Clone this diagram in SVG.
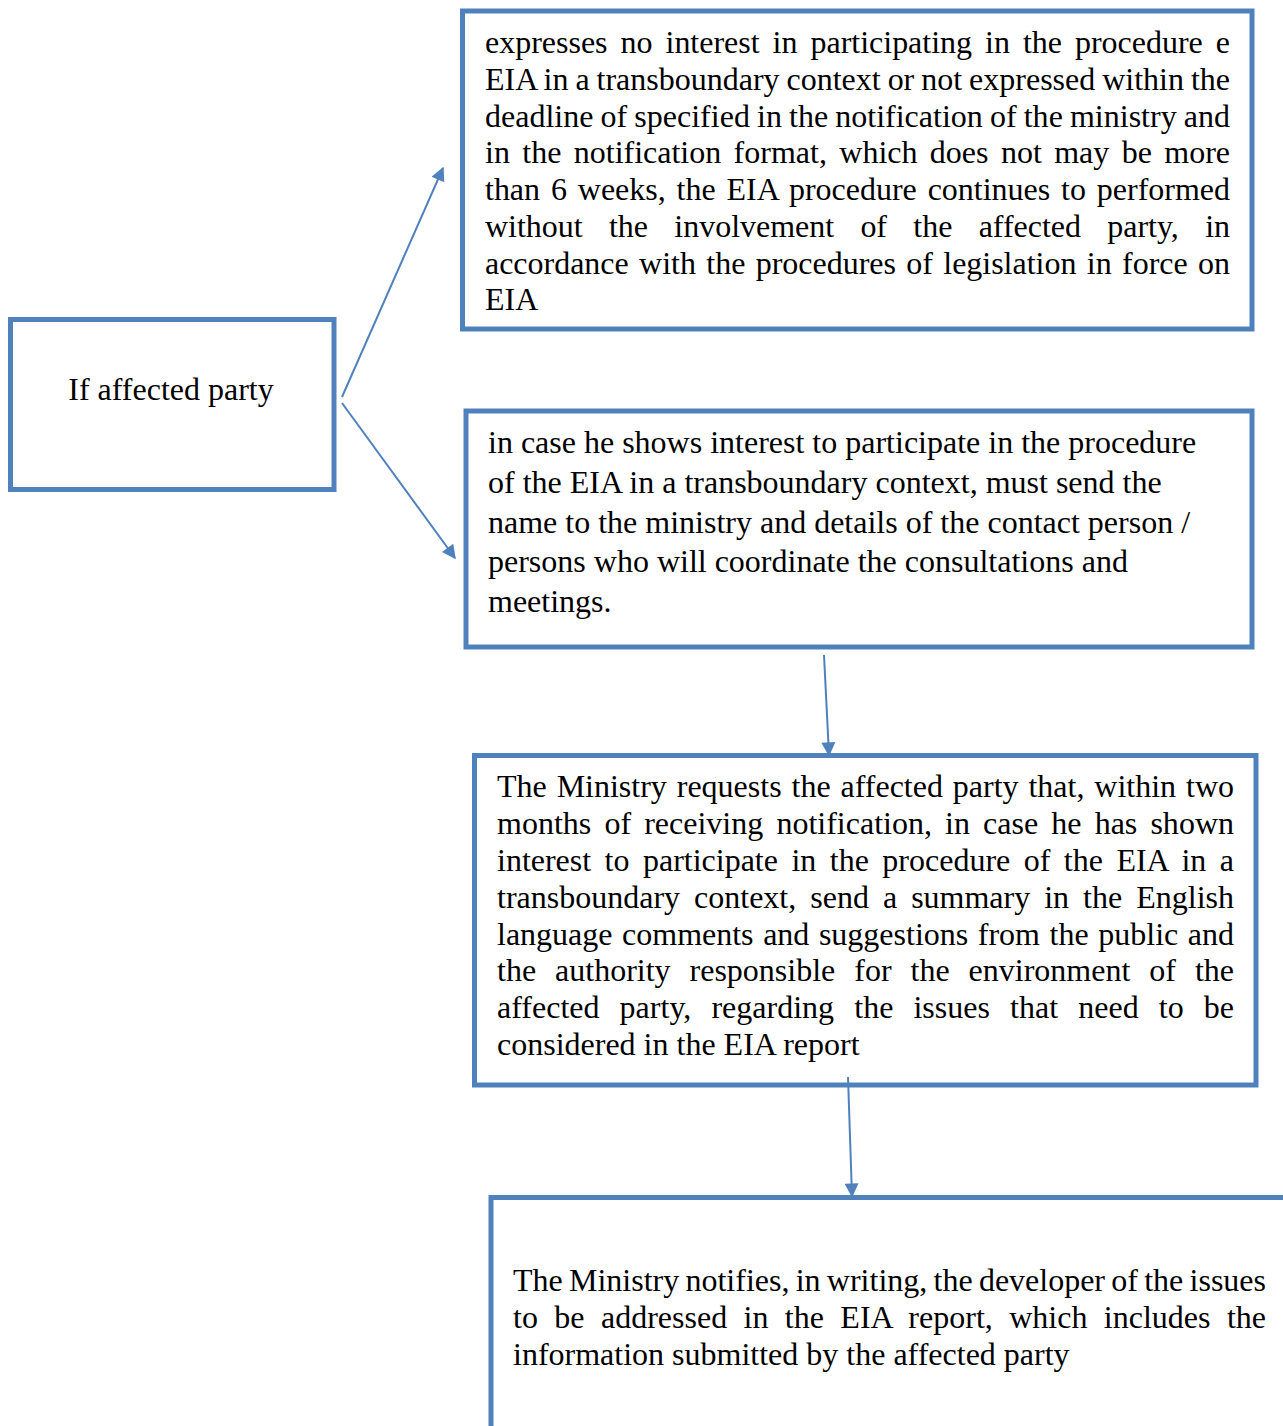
<svg xmlns="http://www.w3.org/2000/svg" width="1283" height="1426" viewBox="0 0 1283 1426">
<style>
.box{fill:#fff;stroke:#4f81bd;stroke-width:5}
.t{font-family:"Liberation Serif","Times New Roman",serif;font-size:32px;fill:#000}
.c{stroke:#4f81bd;stroke-width:2;fill:none;marker-end:url(#ah)}
</style>
<defs>
<marker id="ah" viewBox="0 0 10 10" refX="9" refY="5" markerWidth="9" markerHeight="7" markerUnits="strokeWidth" orient="auto">
<path d="M0,0 L10,5 L0,10 z" fill="#4f81bd"/>
</marker>
</defs>
<rect width="1283" height="1426" fill="#fff"/>
<g id="n0">
<rect class="box" x="10.5" y="319.5" width="323.5" height="170"/>
<text class="t" x="171" y="399.5" text-anchor="middle">If affected party</text>
</g>
<g id="n1">
<rect class="box" x="462.5" y="11" width="789.5" height="318"/>
<text class="t" x="485" y="53" word-spacing="5" textLength="745" lengthAdjust="spacing">expresses no interest in participating in the procedure e</text>
<text class="t" x="485" y="89.8" word-spacing="-1" textLength="745" lengthAdjust="spacing">EIA in a transboundary context or not expressed within the</text>
<text class="t" x="485" y="126.5" word-spacing="-0.9" textLength="745" lengthAdjust="spacing">deadline of specified in the notification of the ministry and</text>
<text class="t" x="485" y="163.3" word-spacing="4.4" textLength="745" lengthAdjust="spacing">in the notification format, which does not may be more</text>
<text class="t" x="485" y="200" word-spacing="2.9" textLength="745" lengthAdjust="spacing">than 6 weeks, the EIA procedure continues to performed</text>
<text class="t" x="485" y="236.8" word-spacing="18.3" textLength="745" lengthAdjust="spacing">without the involvement of the affected party, in</text>
<text class="t" x="485" y="273.5" word-spacing="2.4" textLength="745" lengthAdjust="spacing">accordance with the procedures of legislation in force on</text>
<text class="t" x="485" y="310.3">EIA</text>
</g>
<g id="n2">
<rect class="box" x="466" y="411" width="786" height="236"/>
<text class="t" x="488" y="453">in case he shows interest to participate in the procedure</text>
<text class="t" x="488" y="493">of the EIA in a transboundary context, must send the</text>
<text class="t" x="488" y="533">name to the ministry and details of the contact person /</text>
<text class="t" x="488" y="572">persons who will coordinate the consultations and</text>
<text class="t" x="488" y="612">meetings.</text>
</g>
<g id="n3">
<rect class="box" x="474.5" y="755.5" width="781.5" height="329.5"/>
<text class="t" x="497" y="797" word-spacing="1.9" textLength="737" lengthAdjust="spacing">The Ministry requests the affected party that, within two</text>
<text class="t" x="497" y="834" word-spacing="5.1" textLength="737" lengthAdjust="spacing">months of receiving notification, in case he has shown</text>
<text class="t" x="497" y="871" word-spacing="5.5" textLength="737" lengthAdjust="spacing">interest to participate in the procedure of the EIA in a</text>
<text class="t" x="497" y="908" word-spacing="6" textLength="737" lengthAdjust="spacing">transboundary context, send a summary in the English</text>
<text class="t" x="497" y="945" word-spacing="1.6" textLength="737" lengthAdjust="spacing">language comments and suggestions from the public and</text>
<text class="t" x="497" y="981" word-spacing="11" textLength="737" lengthAdjust="spacing">the authority responsible for the environment of the</text>
<text class="t" x="497" y="1018" word-spacing="12.1" textLength="737" lengthAdjust="spacing">affected party, regarding the issues that need to be</text>
<text class="t" x="497" y="1055">considered in the EIA report</text>
</g>
<g id="n4">
<rect class="box" x="491" y="1197.5" width="900" height="400"/>
<text class="t" x="513" y="1290.7" word-spacing="-1.7" textLength="753" lengthAdjust="spacing">The Ministry notifies, in writing, the developer of the issues</text>
<text class="t" x="513" y="1327.5" word-spacing="8.4" textLength="753" lengthAdjust="spacing">to be addressed in the EIA report, which includes the</text>
<text class="t" x="513" y="1364.5">information submitted by the affected party</text>
</g>
<g id="connectors">
<line class="c" x1="342" y1="397" x2="443" y2="168"/>
<line class="c" x1="342" y1="403" x2="455" y2="558"/>
<line class="c" x1="824" y1="655" x2="829" y2="755"/>
<line class="c" x1="848" y1="1077" x2="852" y2="1196"/>
</g>
</svg>
